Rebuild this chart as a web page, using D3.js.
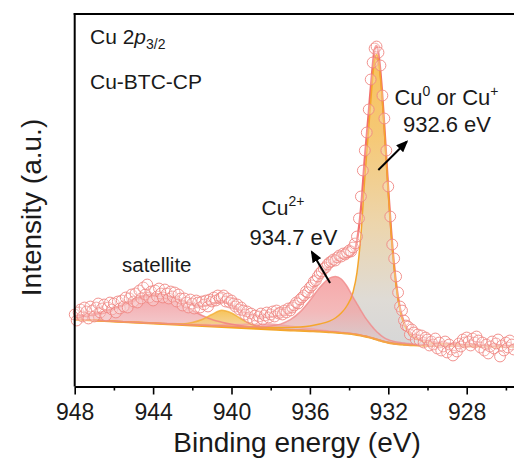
<!DOCTYPE html>
<html>
<head>
<meta charset="utf-8">
<script src="https://cdn.jsdelivr.net/npm/d3@7"></script>
<style>
  html, body { margin: 0; padding: 0; background: #fff; }
  svg { display: block; font-family: "Liberation Sans", Arial, Helvetica, sans-serif; }
</style>
</head>
<body>
<svg id="chart" width="514" height="462"></svg>
<script>
// ---- Measured Cu 2p3/2 scan (binding energy in eV, intensity in a.u.) ----
const scanBE = [
  948.0, 947.9, 947.8, 947.7, 947.6, 947.5, 947.4, 947.3, 947.2, 947.1,
  947.0, 946.9, 946.8, 946.7, 946.6, 946.5, 946.4, 946.3, 946.2, 946.1,
  946.0, 945.9, 945.8, 945.7, 945.6, 945.5, 945.4, 945.3, 945.2, 945.1,
  945.0, 944.9, 944.8, 944.7, 944.6, 944.5, 944.4, 944.3, 944.2, 944.1,
  944.0, 943.9, 943.8, 943.7, 943.6, 943.5, 943.4, 943.3, 943.2, 943.1,
  943.0, 942.9, 942.8, 942.7, 942.6, 942.5, 942.4, 942.3, 942.2, 942.1,
  942.0, 941.9, 941.8, 941.7, 941.6, 941.5, 941.4, 941.3, 941.2, 941.1,
  941.0, 940.9, 940.8, 940.7, 940.6, 940.5, 940.4, 940.3, 940.2, 940.1,
  940.0, 939.9, 939.8, 939.7, 939.6, 939.5, 939.4, 939.3, 939.2, 939.1,
  939.0, 938.9, 938.8, 938.7, 938.6, 938.5, 938.4, 938.3, 938.2, 938.1,
  938.0, 937.9, 937.8, 937.7, 937.6, 937.5, 937.4, 937.3, 937.2, 937.1,
  937.0, 936.9, 936.8, 936.7, 936.6, 936.5, 936.4, 936.3, 936.2, 936.1,
  936.0, 935.9, 935.8, 935.7, 935.6, 935.5, 935.4, 935.3, 935.2, 935.1,
  935.0, 934.9, 934.8, 934.7, 934.6, 934.5, 934.4, 934.3, 934.2, 934.1,
  934.0, 933.9, 933.8, 933.7, 933.6, 933.5, 933.4, 933.3, 933.2, 933.1,
  933.0, 932.9, 932.8, 932.7, 932.6, 932.5, 932.4, 932.3, 932.2, 932.1,
  932.0, 931.9, 931.8, 931.7, 931.6, 931.5, 931.4, 931.3, 931.2, 931.1,
  931.0, 930.9, 930.8, 930.7, 930.6, 930.5, 930.4, 930.3, 930.2, 930.1,
  930.0, 929.9, 929.8, 929.7, 929.6, 929.5, 929.4, 929.3, 929.2, 929.1,
  929.0, 928.9, 928.8, 928.7, 928.6, 928.5, 928.4, 928.3, 928.2, 928.1,
  928.0, 927.9, 927.8, 927.7, 927.6, 927.5, 927.4, 927.3, 927.2, 927.1,
  927.0, 926.9, 926.8, 926.7, 926.6, 926.5, 926.4, 926.3, 926.2, 926.1,
  926.0, 925.9, 925.8, 925.7, 925.6
];
const scanCounts = [
  72, 66, 74, 77, 70, 79, 75, 68, 80, 76,
  70, 79, 83, 74, 78, 82, 71, 79, 84, 77,
  83, 74, 85, 78, 86, 80, 89, 79, 88, 92,
  85, 93, 84, 96, 88, 99, 92, 102, 89, 95,
  86, 96, 90, 98, 93, 89, 97, 93, 88, 95,
  90, 94, 85, 92, 88, 81, 88, 84, 79, 87,
  83, 78, 86, 84, 79, 85, 82, 86, 80, 87,
  85, 89, 86, 91, 88, 89, 91, 85, 88, 84,
  86, 83, 80, 82, 77, 79, 76, 72, 75, 69,
  73, 67, 71, 66, 70, 73, 67, 71, 74, 69,
  72, 75, 70, 76, 73, 74, 72, 76, 74, 78,
  76, 79, 81, 84, 83, 87, 89, 91, 95, 94,
  99, 101, 105, 106, 110, 113, 115, 118, 119, 122,
  124, 125, 127, 126, 129, 131, 130, 133, 132, 134,
  136, 135, 139, 143, 150, 168, 190, 216, 236, 254,
  277, 307, 324, 338, 340, 334, 321, 291, 268, 236,
  200, 170, 142, 128, 110, 94, 80, 76, 66, 61,
  60, 52, 57, 54, 47, 52, 46, 51, 44, 49,
  47, 41, 45, 42, 48, 38, 44, 36, 40, 45,
  34, 42, 37, 31, 39, 35, 43, 40, 47, 44,
  49, 45, 41, 48, 44, 50, 46, 39, 44, 36,
  42, 33, 40, 45, 38, 43, 47, 30, 41, 36,
  44, 39, 46, 42, 37
];

// ---- Peak fit: Shirley-type background and components (height above background) ----
const fitBE = [
  948, 947.5, 947, 946.5, 946, 945.5, 945, 944.5, 944, 943.5,
  943, 942.5, 942, 941.5, 941, 940.5, 940, 939.5, 939, 938.5,
  938, 937.5, 937, 936.5, 936, 935.5, 935, 934.7, 934.4, 934.1,
  933.8, 933.6, 933.4, 933.2, 933.0, 932.85, 932.7, 932.6, 932.5, 932.35,
  932.2, 932.0, 931.8, 931.6, 931.4, 931.2, 931.0, 930.7, 930.4, 930.0,
  929.5, 929, 928, 927, 926, 925
];
const background = [
  67, 66.5, 66, 65.5, 65, 64.5, 64, 63.5, 63, 62.5,
  62, 61.5, 61, 60.5, 60, 59.5, 59, 58.5, 58, 57.5,
  57, 56.6, 56.2, 55.8, 55.4, 55, 54.4, 54, 53.5, 53,
  52.3, 51.7, 51, 50.2, 49.3, 48.5, 47.6, 47, 46.4, 45.5,
  44.7, 43.8, 43.1, 42.6, 42.2, 41.9, 41.6, 41.3, 41.1, 40.9,
  40.7, 40.6, 40.4, 40.2, 40, 39.8
];
// shake-up satellite near 943.8 eV
const satelliteA = [
  2.5, 3.7, 5.7, 8.5, 12.3, 16.8, 21.4, 25.5, 27.8, 27.5,
  24.8, 20.5, 15.3, 10.5, 7.0, 4.8, 3.2, 2.2, 1.6, 1.2,
  0.95, 0.8, 0.67, 0.59, 0.52, 0.46, 0.41, 0.39, 0.36, 0.34,
  0.32, 0.31, 0.3, 0.29, 0.28, 0.27, 0.27, 0.26, 0.26, 0.25,
  0.25, 0.24, 0.23, 0.22, 0.22, 0.21, 0.2, 0.19, 0.19, 0.17,
  0.16, 0.15, 0.13, 0.12, 0.11, 0.1
];
// satellite near 940.4 eV
const satelliteB = [
  0.05, 0.05, 0.06, 0.07, 0.08, 0.1, 0.12, 0.15, 0.2, 0.28,
  0.45, 1.1, 3.0, 6.5, 12.0, 16.8, 14.5, 9.0, 4.5, 2.0,
  0.9, 0.45, 0.25, 0.17, 0.13, 0.1, 0.08, 0.07, 0.06, 0.06,
  0.05, 0.05, 0.05, 0.04, 0.04, 0.04, 0.04, 0.04, 0.04, 0.04,
  0.035, 0.035, 0.03, 0.03, 0.03, 0.03, 0.03, 0.03, 0.025, 0.025,
  0.02, 0.02, 0.02, 0.015, 0.015, 0.01
];
// broad low satellite near 938.3 eV
const satelliteC = [
  0.15, 0.18, 0.2, 0.24, 0.28, 0.33, 0.4, 0.5, 0.6, 0.75,
  0.95, 1.1, 1.3, 1.5, 1.8, 2.3, 3.0, 3.6, 4.2, 5.0,
  5.5, 5.0, 4.1, 3.2, 2.3, 1.6, 1.15, 0.95, 0.8, 0.67,
  0.56, 0.5, 0.45, 0.4, 0.36, 0.33, 0.3, 0.29, 0.28, 0.26,
  0.24, 0.22, 0.2, 0.19, 0.18, 0.17, 0.16, 0.15, 0.14, 0.13,
  0.12, 0.11, 0.1, 0.09, 0.08, 0.07
];
// Cu2+ main line, 934.7 eV
const cu2Peak = [
  0.18, 0.2, 0.22, 0.23, 0.26, 0.28, 0.31, 0.34, 0.38, 0.42,
  0.47, 0.53, 0.61, 0.69, 0.8, 0.94, 1.13, 1.37, 1.7, 2.25,
  3.4, 5.8, 10.6, 18.8, 30.6, 43.9, 54, 56, 54, 47,
  37, 31, 25, 19.5, 15, 12, 9.5, 8, 6.8, 5.2,
  4, 3, 2.4, 2, 1.7, 1.5, 1.3, 1.1, 1.0, 0.85,
  0.7, 0.6, 0.45, 0.35, 0.28, 0.22
];
// Cu0 / Cu+ line, 932.6 eV
const cu0Peak = [
  0.24, 0.26, 0.28, 0.3, 0.32, 0.34, 0.37, 0.4, 0.43, 0.47,
  0.52, 0.57, 0.63, 0.7, 0.78, 0.88, 1.0, 1.15, 1.35, 1.6,
  1.9, 2.3, 2.9, 3.8, 5.2, 7.5, 11, 14.5, 20, 28,
  42, 62, 100, 158, 209, 248, 279, 285, 279, 252,
  211, 150, 96.6, 57.8, 33.6, 20.3, 13.4, 8, 5.2, 3.2,
  2.0, 1.3, 0.75, 0.5, 0.35, 0.25
];

// ---- Axis ticks ----
const majorTicks = [948, 944, 940, 936, 932, 928];
const minorTicks = [946, 942, 938, 934, 930, 926];

// ---- Scales ----
const svg = d3.select("#chart");
const x = d3.scaleLinear().domain([948, 924]).range([74.7, 545.1]);
const y = d3.scaleLinear().domain([0, 372.5]).range([386.5, 14]);

// ---- Gradients for component fills ----
const defs = svg.append("defs");
function vGrad(id, stops, iTop, iBottom) {
  const g = defs.append("linearGradient")
    .attr("id", id)
    .attr("gradientUnits", "userSpaceOnUse")
    .attr("x1", 0).attr("x2", 0)
    .attr("y1", y(iTop)).attr("y2", y(iBottom));
  stops.forEach(([o, c]) => g.append("stop").attr("offset", o).attr("stop-color", c));
}
vGrad("gCu0", [[0, "#f7bb4a"], [0.3, "#f5c46a"], [0.6, "#ebd2a6"], [0.85, "#dcd8d2"], [1, "#d3d3d3"]], 340, 42);
vGrad("gCu2", [[0, "#f59090"], [0.55, "#f0a6a7"], [1, "#d8cbcd"]], 112, 44);
vGrad("gSatA", [[0, "#f4979b"], [1, "#f0c1c4"]], 92, 60);
vGrad("gSatB", [[0, "#f6bb40"], [1, "#f3d49c"]], 78, 58);
vGrad("gSatC", [[0, "#f2acaf"], [1, "#eec8ca"]], 64, 54);

defs.append("marker")
  .attr("id", "arrow")
  .attr("markerUnits", "userSpaceOnUse")
  .attr("markerWidth", 12).attr("markerHeight", 10)
  .attr("refX", 10).attr("refY", 5)
  .attr("orient", "auto")
  .append("path").attr("d", "M0,0 L12,5 L0,10 Z").attr("fill", "#000");

// ---- Fitted components ----
const idx = d3.range(fitBE.length);
const components = [
  { vals: satelliteC, fill: "url(#gSatC)", stroke: "#f2a0a3", op: 0.85 },
  { vals: satelliteA, fill: "url(#gSatA)", stroke: "#f07e80", op: 0.85 },
  { vals: satelliteB, fill: "url(#gSatB)", stroke: "#f4ad34", op: 0.9 },
  { vals: cu0Peak,    fill: "url(#gCu0)",  stroke: "#f5a62c", op: 0.92 },
  { vals: cu2Peak,    fill: "url(#gCu2)",  stroke: "#f08a8a", op: 0.78 }
];
const topLine = vals => d3.line()
  .x(i => x(fitBE[i]))
  .y(i => y(background[i] + vals[i]))
  .curve(d3.curveMonotoneX)(idx);

const gFit = svg.append("g");
components.forEach(c => {
  const area = d3.area()
    .x(i => x(fitBE[i]))
    .y0(i => y(background[i]))
    .y1(i => y(background[i] + c.vals[i]))
    .curve(d3.curveMonotoneX);
  gFit.append("path").attr("d", area(idx)).attr("fill", c.fill).attr("fill-opacity", c.op);
});

// background
gFit.append("path")
  .attr("d", d3.line().x(i => x(fitBE[i])).y(i => y(background[i])).curve(d3.curveMonotoneX)(idx))
  .attr("fill", "none").attr("stroke", "#f5a623").attr("stroke-width", 2.2);

// envelope = background + all components
const envelope = idx.map(i => background[i] + satelliteA[i] + satelliteB[i] + satelliteC[i] + cu2Peak[i] + cu0Peak[i]);
gFit.append("path")
  .attr("d", d3.line().x(i => x(fitBE[i])).y(i => y(envelope[i])).curve(d3.curveMonotoneX)(idx))
  .attr("fill", "none").attr("stroke", "#f26f6c").attr("stroke-width", 2.2);

// component outlines above the envelope
components.forEach(c => {
  gFit.append("path").attr("d", topLine(c.vals)).attr("fill", "none")
    .attr("stroke", c.stroke).attr("stroke-width", 1.5)
    .attr("stroke-opacity", c.vals === cu0Peak ? 1 : 0.8);
});

// ---- Measured points ----
svg.append("g").selectAll("circle")
  .data(scanBE.map((be, i) => [be, scanCounts[i]]))
  .join("circle")
  .attr("cx", d => x(d[0]))
  .attr("cy", d => y(d[1]))
  .attr("r", 5.4)
  .attr("fill", "#ffffff").attr("fill-opacity", 0.22)
  .attr("stroke", "#ef8681").attr("stroke-width", 0.9);

// ---- Frame and axes ----
const frame = svg.append("g").attr("stroke", "#000").attr("stroke-width", 2).attr("fill", "none");
frame.append("line").attr("x1", x(948)).attr("x2", x(948)).attr("y1", y(372.5) - 1).attr("y2", y(0));
frame.append("line").attr("x1", x(948) - 1).attr("x2", x(924)).attr("y1", y(372.5)).attr("y2", y(372.5));

const xAxis = svg.append("g").attr("transform", `translate(0,${y(0)})`)
  .call(d3.axisBottom(x).tickValues(majorTicks).tickSize(8).tickSizeOuter(0).tickFormat(d3.format("d")));
xAxis.select(".domain").attr("stroke-width", 2);
xAxis.selectAll(".tick line").attr("stroke-width", 1.6);
xAxis.selectAll(".tick text")
  .attr("font-family", "Liberation Sans, Arial, sans-serif")
  .attr("font-size", 23).attr("fill", "#1a1a1a")
  .attr("y", 33).attr("dy", 0);

const xMinor = svg.append("g").attr("transform", `translate(0,${y(0)})`)
  .call(d3.axisBottom(x).tickValues(minorTicks).tickSize(4).tickSizeOuter(0).tickFormat(""));
xMinor.select(".domain").remove();
xMinor.selectAll(".tick line").attr("stroke-width", 1.6);

// axis titles
svg.append("text")
  .attr("x", 297).attr("y", 451.5)
  .attr("text-anchor", "middle").attr("font-size", 28).attr("fill", "#1a1a1a")
  .text("Binding energy (eV)");
svg.append("text")
  .attr("transform", "translate(41,207.5) rotate(-90)")
  .attr("text-anchor", "middle").attr("font-size", 28).attr("fill", "#1a1a1a")
  .text("Intensity (a.u.)");

// ---- Labels ----
const t1 = svg.append("text").attr("x", 90).attr("y", 43.5).attr("font-size", 21).attr("fill", "#1a1a1a");
t1.append("tspan").text("Cu 2");
t1.append("tspan").attr("font-style", "italic").text("p");
t1.append("tspan").attr("font-size", 14).attr("dy", 5).text("3/2");

svg.append("text").attr("x", 90).attr("y", 88.5).attr("font-size", 21).attr("fill", "#1a1a1a").text("Cu-BTC-CP");

svg.append("text").attr("x", 122).attr("y", 272).attr("font-size", 20.5).attr("fill", "#1a1a1a").text("satellite");

// Cu2+ annotation
const c2 = svg.append("text").attr("x", 283).attr("y", 214.5).attr("text-anchor", "middle")
  .attr("font-size", 21).attr("fill", "#1a1a1a");
c2.append("tspan").text("Cu");
c2.append("tspan").attr("font-size", 14).attr("dy", -9).text("2+");
svg.append("text").attr("x", 293.5).attr("y", 245).attr("text-anchor", "middle")
  .attr("font-size", 22).attr("fill", "#1a1a1a").text("934.7 eV");

// Cu0 / Cu+ annotation
const c0 = svg.append("text").attr("x", 446.5).attr("y", 104.5).attr("text-anchor", "middle")
  .attr("font-size", 22).attr("fill", "#1a1a1a");
c0.append("tspan").text("Cu");
c0.append("tspan").attr("font-size", 14).attr("dy", -9).text("0");
c0.append("tspan").attr("dy", 9).text(" or Cu");
c0.append("tspan").attr("font-size", 14).attr("dy", -9).text("+");
svg.append("text").attr("x", 447).attr("y", 131.5).attr("text-anchor", "middle")
  .attr("font-size", 22).attr("fill", "#1a1a1a").text("932.6 eV");

// arrows from the peaks toward their labels
const arrows = [
  { from: [934.97, 103.5], to: [935.9, 134.5] },
  { from: [932.51, 216.5], to: [931.06, 244.8] }
];
svg.append("g").selectAll("line").data(arrows).join("line")
  .attr("x1", d => x(d.from[0])).attr("y1", d => y(d.from[1]))
  .attr("x2", d => x(d.to[0])).attr("y2", d => y(d.to[1]))
  .attr("stroke", "#000").attr("stroke-width", 2)
  .attr("marker-end", "url(#arrow)");
</script>
</body>
</html>
